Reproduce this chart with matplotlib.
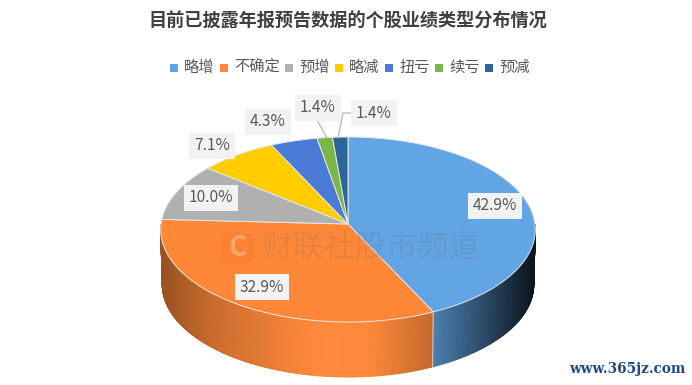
#!/usr/bin/env python3
import matplotlib
matplotlib.use("Agg")
import matplotlib.pyplot as plt
import numpy as np
from matplotlib.patches import FancyBboxPatch, Polygon, Rectangle

plt.rcParams['font.family'] = ['Noto Sans CJK SC', 'DejaVu Sans']

title = "目前已披露年报预告数据的个股业绩类型分布情况"
categories = ["略增", "不确定", "预增", "略减", "扭亏", "续亏", "预减"]
values = [42.9, 32.9, 10.0, 7.1, 4.3, 1.4, 1.4]
colors = ["#62a5e4", "#ff8838", "#b0b0b0", "#ffcc00", "#4a7bd6", "#7ab648", "#2a6699"]

# pixel centres of the value labels
label_x = [495, 262, 211, 212, 268, 318, 374]
label_y = [206, 287, 198, 146, 122, 108, 113]

# pie geometry in pixels, slight perspective on the top face
cx, cy = 348, 224
rx, ry = 187, 92.2
persp = 0.0595
depth = 55


def project(theta, drop=0.0, shrink=1.0):
    s, c = np.sin(theta), np.cos(theta)
    w = 1 + persp * c
    return cx + shrink * rx * s / w, cy - ry * c / w + drop


def shade(x):
    t = (x - cx) / rx
    return np.interp(t, [-1.0, -0.75, -0.2, 0.1, 0.46, 0.75, 1.0],
                     [0.60, 0.78, 1.0, 1.0, 0.76, 0.42, 0.12])


fig = plt.figure(figsize=(6.92, 3.85), dpi=100)
ax = fig.add_axes([0, 0, 1, 1])
ax.set_xlim(0, 692)
ax.set_ylim(385, 0)
ax.axis("off")

angles = np.concatenate([[0], np.cumsum(values)]) / np.sum(values) * 2 * np.pi

# side wall, as thin strips so the shading can run along x
for i, col in enumerate(colors):
    rgb = np.array(matplotlib.colors.to_rgb(col))
    lo, hi = max(angles[i], np.pi / 2), min(angles[i + 1], 3 * np.pi / 2)
    if hi <= lo:
        continue
    th = np.linspace(lo, hi, int((hi - lo) * 120) + 2)
    for a, b in zip(th[:-1], th[1:]):
        x0, y0 = project(a)
        x1, y1 = project(b)
        x2, y2 = project(b, depth, 0.992)
        x3, y3 = project(a, depth, 0.992)
        face = np.clip(rgb * shade((x0 + x1) / 2), 0, 1)
        ax.add_patch(Polygon([(x0, y0), (x1, y1), (x2, y2), (x3, y3)], closed=True,
                             facecolor=face, edgecolor=face, lw=0.6, zorder=2))

# seam on the wall between blue and orange
sx, sy = project(angles[1])
ex, ey = project(angles[1], depth, 0.992)
ax.plot([sx, ex], [sy, ey], color="#d9d9d9", lw=0.8, alpha=0.8, zorder=3)

# top face
for i, col in enumerate(colors):
    th = np.linspace(angles[i], angles[i + 1], 80)
    xs, ys = project(th)
    pts = np.column_stack([np.r_[cx, xs], np.r_[cy, ys]])
    ax.add_patch(Polygon(pts, closed=True, facecolor=col, edgecolor="#e6e6e6", lw=0.7, zorder=4))

# watermark
ax.add_patch(FancyBboxPatch((223, 235), 29, 27, boxstyle="round,pad=0,rounding_size=5",
                            facecolor="#f26a1b", edgecolor="#f26a1b", lw=4, alpha=0.16, zorder=5))
ax.text(237.5, 248.5, "C", fontsize=20, fontweight="bold", color="white", alpha=0.28,
        ha="center", va="center", zorder=6)
ax.text(371, 248, "财联社股市频道", fontsize=22.5, color="#666666", alpha=0.16,
        ha="center", va="center", zorder=6)

# leader lines of the two small slices
ax.plot([317, 327], [120, 138], color="#b5b5b5", lw=0.9, zorder=5)
ax.plot([338, 343, 354], [138, 113, 113], color="#b5b5b5", lw=0.9, zorder=5)

# value labels
for v, lx, ly in zip(values, label_x, label_y):
    ax.text(lx, ly, f"{v:.1f}%", fontsize=11.2, color="#595959", ha="center", va="center", zorder=7,
            bbox=dict(facecolor="#f2f2f2", edgecolor="none", boxstyle="square,pad=0.3"))

# title and legend
ax.text(348, 21, title, fontsize=13.1, fontweight="bold", color="#404040", ha="center", va="center")
x = 170
for name, col in zip(categories, colors):
    ax.add_patch(Rectangle((x, 63.5), 8, 8, facecolor=col, edgecolor="none"))
    ax.text(x + 14, 67.5, name, fontsize=11, color="#595959", ha="left", va="center")
    x += 8 + 6 + 15 * len(name) + 6

ax.text(627, 369, "www.365jz.com", family="DejaVu Serif", fontsize=9.8, fontweight="bold",
        color="#1f4a86", ha="center", va="center")

fig.savefig("out.png", dpi=100)
